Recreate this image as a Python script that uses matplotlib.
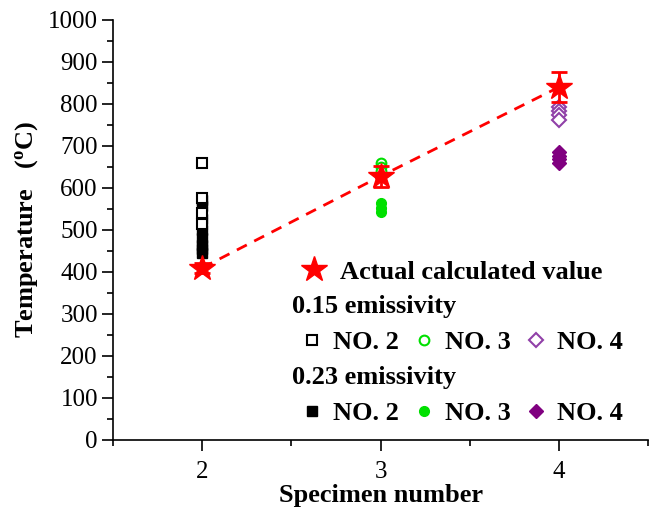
import matplotlib
matplotlib.use("Agg")
import matplotlib.pyplot as plt

plt.rcParams['font.family'] = ['Liberation Serif', 'DejaVu Serif']
plt.rcParams['mathtext.fontset'] = 'custom'
plt.rcParams['mathtext.rm'] = 'Liberation Serif:bold'
plt.rcParams['mathtext.bf'] = 'Liberation Serif:bold'

# Actual calculated value (with error bars)
specimen = [2, 3, 4]
actual = [410, 628, 840]
actual_err = [12, 25, 35]

# 0.15 emissivity (open markers)
e15_no2 = [660, 577, 540, 513]
e15_no3 = [660, 650, 640]
e15_no4 = [792, 783, 774, 762]

# 0.23 emissivity (filled markers)
e23_no2 = [572, 558, 525, 500, 480, 465, 455, 445]
e23_no3 = [563, 553, 543]
e23_no4 = [685, 676, 668, 660]

green = '#00e000'
purple = '#800080'
purple_open = '#9040a8'

fig = plt.figure(figsize=(6.54, 5.11), dpi=100)
ax = fig.add_axes([0.173, 0.139, 0.818, 0.822])

ax.plot(specimen, actual, '--', color='red', lw=2, dashes=(4, 3), zorder=2)

s_f2, = ax.plot([2] * len(e23_no2), e23_no2, 's', color='black', ms=7, ls='none', zorder=3)
s_o2, = ax.plot([2] * len(e15_no2), e15_no2, 's', mfc='white', mec='black', mew=1.5, ms=7, ls='none', zorder=4)
s_f3, = ax.plot([3] * len(e23_no3), e23_no3, 'o', color=green, ms=7, ls='none', zorder=3)
s_o3, = ax.plot([3] * len(e15_no3), e15_no3, 'o', mfc='white', mec=green, mew=1.5, ms=7, ls='none', zorder=3)
s_f4, = ax.plot([4] * len(e23_no4), e23_no4, 'D', color=purple, ms=7, ls='none', zorder=3)
s_o4, = ax.plot([4] * len(e15_no4), e15_no4, 'D', mfc='white', mec=purple_open, mew=1.5, ms=7, ls='none', zorder=3)

ax.errorbar(specimen, actual, yerr=actual_err, fmt='none', ecolor='red', elinewidth=2, capsize=6, capthick=2, zorder=5)
star, = ax.plot(specimen, actual, '*', color='red', ms=19, ls='none', zorder=6)

ax.set_xlim(1.5, 4.5)
ax.set_ylim(0, 1000)
ax.set_xticks([2, 3, 4])
ax.set_xticks([1.5, 2.5, 3.5, 4.5], minor=True)
ax.set_yticks(range(0, 1001, 100))
ax.set_yticks(range(50, 1000, 100), minor=True)
ax.spines['top'].set_visible(False)
ax.spines['right'].set_visible(False)
ax.spines['left'].set_linewidth(1.2)
ax.spines['bottom'].set_linewidth(1.2)
ax.tick_params(which='major', direction='out', length=8, width=1.2, labelsize=18, pad=3)
ax.tick_params(axis='x', which='major', pad=7)
ax.tick_params(which='minor', direction='out', length=4, width=1.2)

ax.set_xlabel('Specimen number', fontsize=19, fontweight='bold', labelpad=1)
ax.set_ylabel('Temperature   ($\\mathregular{^o}$C)', fontsize=19, fontweight='bold', labelpad=6)

bold = {'weight': 'bold', 'size': 19}
leg1 = ax.legend([star], ['Actual calculated value'], loc='center left', bbox_to_anchor=(0.35, 0.40),
                 frameon=False, prop=bold, handlelength=1.0, handletextpad=0.5, borderpad=0, borderaxespad=0)
ax.add_artist(leg1)
ax.text(0.335, 0.317, '0.15 emissivity', transform=ax.transAxes, fontsize=19, fontweight='bold', va='center')
leg2 = ax.legend([s_o2, s_o3, s_o4], ['NO. 2', 'NO. 3', 'NO. 4'], loc='center left', bbox_to_anchor=(0.357, 0.233),
                 frameon=False, prop=bold, ncol=3, handlelength=0.6, handletextpad=0.5, columnspacing=0.65,
                 borderpad=0, borderaxespad=0)
ax.add_artist(leg2)
ax.text(0.335, 0.148, '0.23 emissivity', transform=ax.transAxes, fontsize=19, fontweight='bold', va='center')
ax.legend([s_f2, s_f3, s_f4], ['NO. 2', 'NO. 3', 'NO. 4'], loc='center left', bbox_to_anchor=(0.357, 0.064),
          frameon=False, prop=bold, ncol=3, handlelength=0.6, handletextpad=0.5, columnspacing=0.65,
          borderpad=0, borderaxespad=0)

fig.savefig('out.png', dpi=100)
